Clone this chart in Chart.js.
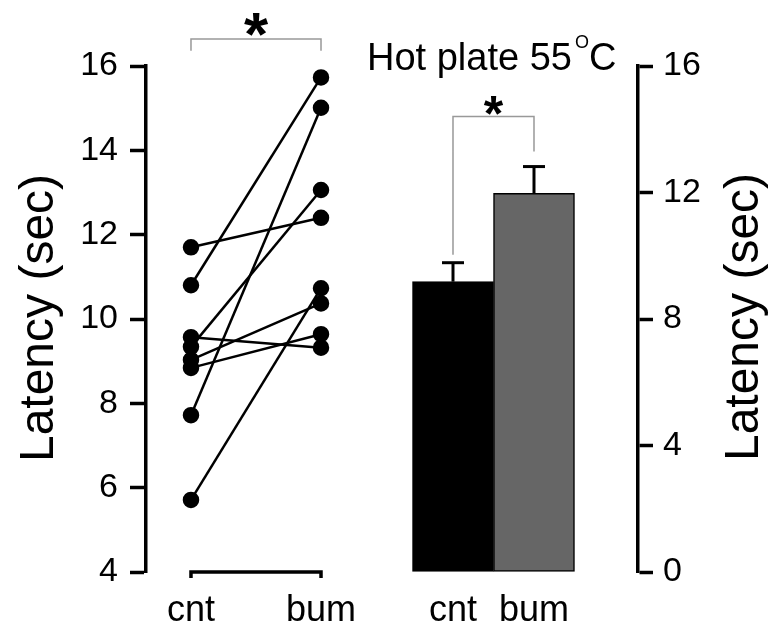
<!DOCTYPE html>
<html>
<head>
<meta charset="utf-8">
<script src="https://cdn.jsdelivr.net/npm/chart.js@4.4.0/dist/chart.umd.min.js"></script>
<style>
  body { margin: 0; background: #fff; }
  #wrap { position: relative; width: 771px; height: 628px; }
  canvas { position: absolute; top: 0; }
  #left { left: 0; }
  #right { left: 350px; }
</style>
</head>
<body>
<div id="wrap">
  <canvas id="left" width="380" height="628"></canvas>
  <canvas id="right" width="421" height="628"></canvas>
</div>
<script>
const groups = ["cnt", "bum"];
// paired animals
const cntLatency = [11.7, 10.8, 9.57, 9.34, 9.03, 8.84, 7.72, 5.71];
const bumLatency = [12.4, 15.73, 9.32, 13.06, 10.37, 9.64, 15.01, 10.73];
// group means and SEM, right panel
const meanLatency = [9.18, 11.97];
const semLatency = [0.6, 0.85];
const leftTicks = [4, 6, 8, 10, 12, 14, 16];
const rightTicks = [0, 4, 8, 12, 16];
const barColors = ["#000000", "#666666"];

const FONT = "'Liberation Sans', Arial, sans-serif";
Chart.defaults.font.family = FONT;
Chart.defaults.color = "#000";

function line(ctx, pts) {
  ctx.beginPath();
  ctx.moveTo(pts[0][0], pts[0][1]);
  for (let i = 1; i < pts.length; i++) ctx.lineTo(pts[i][0], pts[i][1]);
  ctx.stroke();
}

function star(ctx, x, y, size) {
  ctx.save();
  ctx.font = "bold " + size + "px " + FONT;
  ctx.textAlign = "center";
  ctx.textBaseline = "alphabetic";
  ctx.fillStyle = "#000";
  ctx.fillText("*", x, y + size * 0.53);
  ctx.restore();
}

function yTitle(ctx, x, y) {
  ctx.save();
  ctx.translate(x, y);
  ctx.rotate(-Math.PI / 2);
  ctx.font = "48px " + FONT;
  ctx.textAlign = "center";
  ctx.textBaseline = "alphabetic";
  ctx.fillStyle = "#000";
  ctx.fillText("Latency (sec)", 0, 0);
  ctx.restore();
}

// stop chart.js from shrinking the plot area for edge labels
function noPad(s) {
  s.paddingLeft = 0; s.paddingRight = 0; s.paddingTop = 0; s.paddingBottom = 0;
}

const leftDecor = {
  id: "leftDecor",
  afterDraw(chart) {
    const ctx = chart.ctx, xs = chart.scales.x, ys = chart.scales.y;
    const x0 = xs.getPixelForValue(0), x1 = xs.getPixelForValue(1);
    const bottom = chart.chartArea.bottom;
    ctx.save();
    ctx.strokeStyle = "#000";
    ctx.lineWidth = 3.5;
    ctx.lineJoin = "miter";
    line(ctx, [[x0, bottom + 6], [x0, bottom], [x1, bottom], [x1, bottom + 6]]);
    // significance bracket
    ctx.strokeStyle = "#999";
    ctx.lineWidth = 1.5;
    const yt = ys.getPixelForValue(16.64), yb = ys.getPixelForValue(16.36);
    line(ctx, [[x0, yb], [x0, yt], [x1, yt], [x1, yb]]);
    ctx.restore();
    star(ctx, (x0 + x1) / 2, 22, 62);
    yTitle(ctx, 53, 318);
  }
};

const rightDecor = {
  id: "rightDecor",
  afterDraw(chart) {
    const ctx = chart.ctx, ys = chart.scales.y;
    const bars = chart.getDatasetMeta(0).data;
    ctx.save();
    ctx.strokeStyle = "#000";
    ctx.lineWidth = 3;
    const errTop = [];
    bars.forEach((bar, i) => {
      const top = ys.getPixelForValue(meanLatency[i] + semLatency[i]);
      errTop.push(top);
      line(ctx, [[bar.x, bar.y], [bar.x, top]]);
      line(ctx, [[bar.x - 11, top], [bar.x + 11, top]]);
    });
    // significance bracket
    ctx.strokeStyle = "#999";
    ctx.lineWidth = 1.5;
    const yt = ys.getPixelForValue(14.4);
    line(ctx, [[bars[0].x, errTop[0] - 8], [bars[0].x, yt], [bars[1].x, yt], [bars[1].x, errTop[1] - 15]]);
    ctx.restore();
    star(ctx, (bars[0].x + bars[1].x) / 2, 104, 50);

    // title with superscript degree sign
    ctx.save();
    ctx.fillStyle = "#000";
    ctx.textBaseline = "alphabetic";
    ctx.textAlign = "left";
    ctx.font = "38px " + FONT;
    let x = 17;
    ctx.fillText("Hot plate 55", x, 70);
    x += ctx.measureText("Hot plate 55").width + 3;
    ctx.font = "18px " + FONT;
    ctx.fillText("O", x, 48);
    x += ctx.measureText("O").width;
    ctx.font = "38px " + FONT;
    ctx.fillText("C", x, 70);
    ctx.restore();

    yTitle(ctx, 408, 317);
  }
};

new Chart(document.getElementById("left"), {
  type: "scatter",
  data: {
    datasets: cntLatency.map((v, i) => ({
      data: [{ x: 0, y: v }, { x: 1, y: bumLatency[i] }],
      showLine: true,
      borderColor: "#000",
      backgroundColor: "#000",
      borderWidth: 2.5,
      pointRadius: 7,
      pointHoverRadius: 7,
      clip: false
    }))
  },
  options: {
    responsive: false,
    animation: false,
    events: [],
    layout: { autoPadding: false, padding: { top: 66, left: 0, right: 30, bottom: 0 } },
    plugins: { legend: { display: false }, tooltip: { enabled: false } },
    scales: {
      x: {
        type: "linear",
        offset: false,
        min: -0.346,
        max: 1.223,
        afterBuildTicks: s => { s.ticks = [{ value: 0 }, { value: 1 }]; },
        afterFit: s => { s.height = 56; noPad(s); },
        grid: { display: false, drawTicks: false },
        border: { display: false },
        ticks: { callback: v => groups[v], font: { size: 36 }, padding: 17, maxRotation: 0 }
      },
      y: {
        min: 4,
        max: 16,
        afterBuildTicks: s => { s.ticks = leftTicks.map(v => ({ value: v })); },
        afterFit: s => { s.width = 146; noPad(s); },
        grid: { drawOnChartArea: false, tickLength: 16, tickWidth: 3.5, tickColor: "#000" },
        border: { display: true, width: 3.5, color: "#000" },
        ticks: { font: { size: 34 }, padding: 12 }
      }
    }
  },
  plugins: [leftDecor]
});

new Chart(document.getElementById("right"), {
  type: "bar",
  data: {
    datasets: [{
      data: meanLatency.map((v, i) => ({ x: i, y: v })),
      backgroundColor: barColors,
      borderColor: "#000",
      borderWidth: 1.5,
      borderSkipped: false,
      barThickness: 81
    }]
  },
  options: {
    responsive: false,
    animation: false,
    events: [],
    layout: { autoPadding: false, padding: { top: 66, left: 22, right: 0, bottom: 0 } },
    plugins: { legend: { display: false }, tooltip: { enabled: false } },
    scales: {
      x: {
        type: "linear",
        offset: false,
        min: -1,
        max: 2.284,
        afterBuildTicks: s => { s.ticks = [{ value: 0 }, { value: 1 }]; },
        afterFit: s => { s.height = 56; noPad(s); },
        grid: { display: false, drawTicks: false, offset: false },
        border: { display: false },
        ticks: { callback: v => groups[v], font: { size: 36 }, padding: 17, maxRotation: 0 }
      },
      y: {
        position: "right",
        min: 0,
        max: 16,
        afterBuildTicks: s => { s.ticks = rightTicks.map(v => ({ value: v })); },
        afterFit: s => { s.width = 133; noPad(s); },
        grid: { drawOnChartArea: false, tickLength: 15, tickWidth: 3.5, tickColor: "#000" },
        border: { display: true, width: 3.5, color: "#000" },
        ticks: { font: { size: 34 }, padding: 10 }
      }
    }
  },
  plugins: [rightDecor]
});
</script>
</body>
</html>
